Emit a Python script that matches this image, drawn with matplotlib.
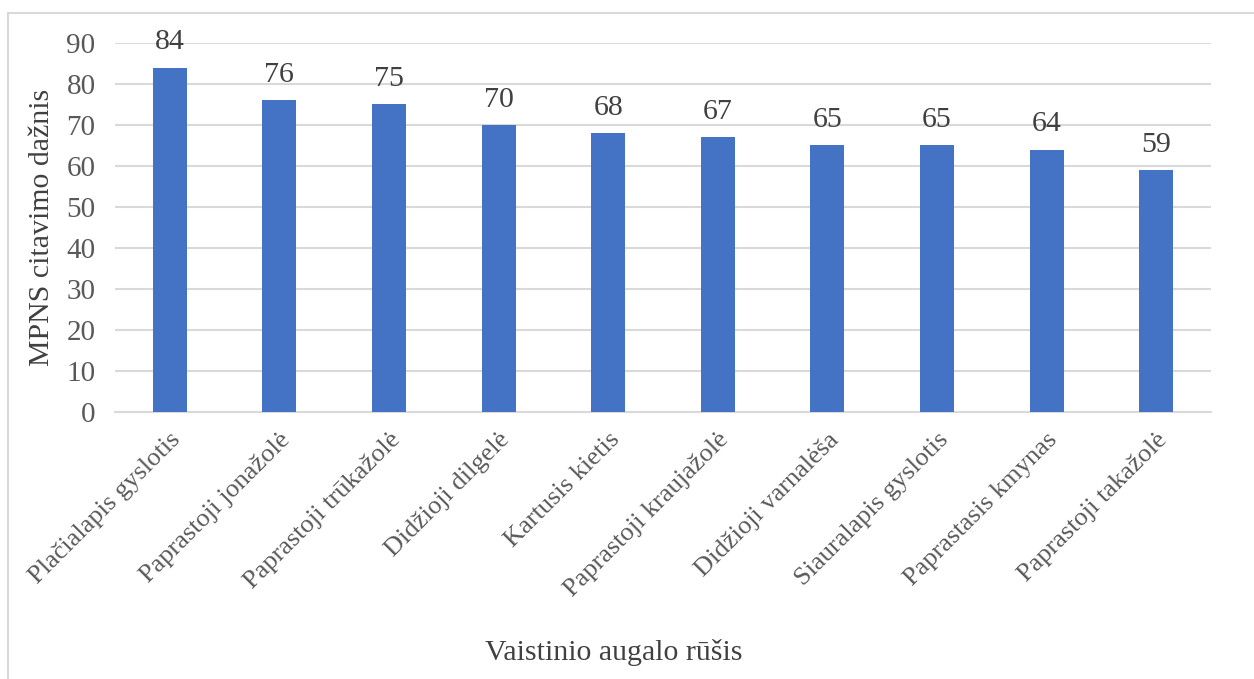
import matplotlib
import matplotlib.pyplot as plt
from matplotlib.patches import Rectangle
import numpy as np

species = ["Plačialapis gyslotis", "Paprastoji jonažolė", "Paprastoji trūkažolė",
           "Didžioji dilgelė", "Kartusis kietis", "Paprastoji kraujažolė",
           "Didžioji varnalėša", "Siauralapis gyslotis", "Paprastasis kmynas",
           "Paprastoji takažolė"]
counts = [84, 76, 75, 70, 68, 67, 65, 65, 64, 59]

matplotlib.rcParams['font.family'] = ['Liberation Serif', 'DejaVu Serif']
bar_color = '#4472C4'
grid_color = '#D9D9D9'
text_color = '#595959'

fig = plt.figure(figsize=(12.54, 6.79), dpi=100)
ax = fig.add_axes([115 / 1254, 1 - 412 / 679, (1211 - 115) / 1254, (412 - 43) / 679])

# outer chart frame
fig.patches.append(Rectangle((8 / 1254, -0.1), 1.2, 1 - 13 / 679 + 0.1,
                             transform=fig.transFigure, fill=False,
                             edgecolor=grid_color, linewidth=1.5))

x = np.arange(len(species))
ax.bar(x, counts, width=0.31, color=bar_color, zorder=3)
for xi, v in zip(x, counts):
    ax.text(xi, v + 3.0, str(v), ha='center', va='bottom', fontsize=21.5,
            color='#404040')

ax.set_xlim(-0.5, len(species) - 0.5)
ax.set_ylim(0, 90)
ax.set_yticks(np.arange(0, 91, 10))
ax.yaxis.grid(True, color=grid_color, linewidth=1.5, zorder=0)
for s in ['top', 'right', 'left']:
    ax.spines[s].set_visible(False)
ax.spines['bottom'].set_color(grid_color)
ax.spines['bottom'].set_linewidth(1.5)
ax.tick_params(axis='both', length=0, labelsize=21, colors=text_color)
ax.tick_params(axis='y', pad=14)

ax.set_xticks(x)
ax.set_xticklabels(species, rotation=45, ha='right', rotation_mode='anchor',
                   fontsize=19)
ax.tick_params(axis='x', pad=12)

ax.set_ylabel("MPNS citavimo dažnis", fontsize=21.5, color='#404040', labelpad=8)
fig.text(614 / 1254, 1 - 652 / 679, "Vaistinio augalo rūšis", ha='center',
         va='center', fontsize=21.5, color='#404040')

fig.savefig("out.png", dpi=100)
